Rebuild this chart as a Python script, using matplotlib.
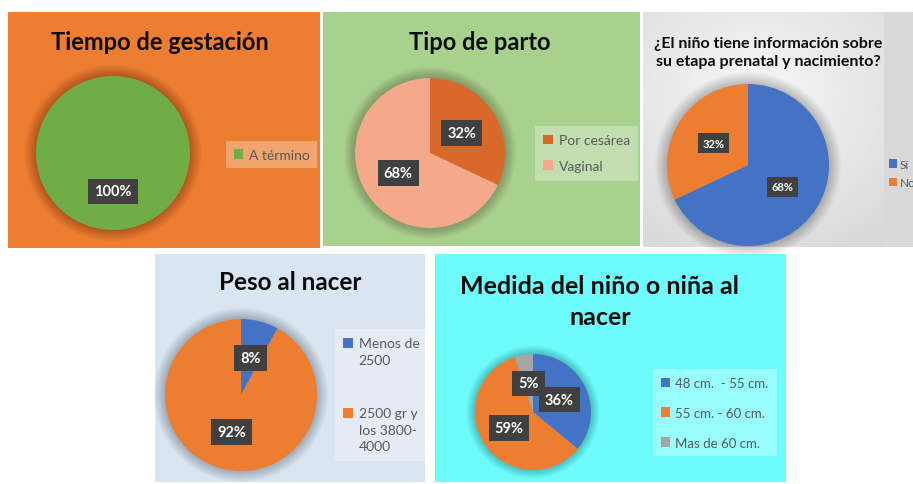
import numpy as np
import matplotlib.pyplot as plt
from matplotlib.patches import Circle, Rectangle
from matplotlib.legend_handler import HandlerPatch

plt.rcParams['font.family'] = ['Lato', 'DejaVu Sans']

W, H = 913, 485

# datos de cada grafico
gest_labels = ['A término']
gest_vals = [100]
parto_labels = ['Por cesárea', 'Vaginal']
parto_vals = [32, 68]
info_labels = ['Sí', 'No']
info_vals = [68, 32]
peso_labels = ['Menos de\n2500', '2500 gr y\nlos 3800-\n4000']
peso_vals = [8, 92]
medida_labels = ['48 cm.  - 55 cm.', '55 cm. - 60 cm.', 'Mas de 60 cm.']
medida_vals = [36, 59, 5]

AZUL, NARANJA, GRIS, VERDE = '#4472C4', '#ED7D31', '#A5A5A5', '#70AD47'

fig = plt.figure(figsize=(W / 100, H / 100), dpi=100)


def rect(x0, y0, x1, y1):
    # pixeles (origen arriba a la izquierda) -> fraccion de figura
    return [x0 / W, 1 - y1 / H, (x1 - x0) / W, (y1 - y0) / H]


def panel(x0, y0, x1, y1, color):
    ax = fig.add_axes(rect(x0, y0, x1, y1))
    ax.set_facecolor(color)
    ax.set_xticks([])
    ax.set_yticks([])
    for s in ax.spines.values():
        s.set_visible(False)
    return ax


def pastel(cx, cy, r, vals, colors, fs=10.5):
    ax = fig.add_axes(rect(cx - 1.25 * r, cy - 1.25 * r, cx + 1.25 * r, cy + 1.25 * r))
    # sombra difusa alrededor del pastel
    for k in range(20):
        ax.add_patch(Circle((0, 0), 1 + 0.008 * k, color='black', alpha=0.01, lw=0))
    wedges, _, autotexts = ax.pie(vals, colors=colors, startangle=90, counterclock=False,
                                  autopct='%1.0f%%', pctdistance=0.5,
                                  textprops=dict(color='white', fontweight='bold', fontsize=fs))
    for t in autotexts:
        t.set_bbox(dict(boxstyle='square,pad=0.4', fc='#404040', ec='none'))
    ax.set_xlim(-1.25, 1.25)
    ax.set_ylim(-1.25, 1.25)
    ax.set_axis_off()
    return wedges


def cuadro_arriba(sube):
    # marcador cuadrado alineado con la primera linea del texto
    def f(legend, orig_handle, xdescent, ydescent, width, height, fontsize):
        return Rectangle((-xdescent, -ydescent + sube), width, height)
    return HandlerPatch(patch_func=f)


def leyenda(wedges, labels, x0, y0, fs=9, interlineado=None, alpha=0.3, **kw):
    hmap = {}
    if interlineado:
        paso = fs * 0.84 * interlineado  # distancia entre lineas en puntos
        for wd, lab in zip(wedges, labels):
            hmap[wd] = cuadro_arriba(lab.count('\n') / 2 * paso)
    leg = fig.legend(wedges, labels, loc='upper left', bbox_to_anchor=(x0 / W, 1 - y0 / H),
                     borderaxespad=0, frameon=True, fancybox=False, facecolor='white',
                     framealpha=alpha, edgecolor='none', handlelength=0.7, handleheight=0.7,
                     labelcolor='#595959', fontsize=fs, handler_map=hmap, **kw)
    if interlineado:
        for t in leg.get_texts():
            t.set_linespacing(interlineado)
    return leg


def titulo(x, y, s, fs=17, **kw):
    fig.text(x / W, 1 - y / H, s, ha='center', va='center', fontsize=fs,
             fontweight='bold', color='#0D0D0D', **kw)


# 1. Tiempo de gestacion
panel(8, 13, 320, 249, '#ED7D31')
titulo(160, 43, 'Tiempo de gestación')
w = pastel(113, 154, 77, gest_vals, [VERDE])
leyenda(w, gest_labels, 226, 142, fs=10, borderpad=0.55, handletextpad=0.4)

# 2. Tipo de parto
panel(323, 13, 640, 247, '#A9D18E')
titulo(480, 43, 'Tipo de parto')
w = pastel(430, 154, 75, parto_vals, ['#D9692A', '#F4A98A'])
leyenda(w, parto_labels, 535, 127, fs=10, labelspacing=1.0, borderpad=0.6,
        handletextpad=0.4)

# 3. Informacion prenatal (fondo degradado)
ax3 = panel(643, 13, 913, 248, '#E0E0E0')
gx, gy = np.meshgrid(np.linspace(0, 1, 300), np.linspace(0, 1, 300))
grad = 0.97 - 0.16 * np.hypot(gx - 0.42, gy - 0.35)
grad[:, gx[0] > 0.895] = 0.85
ax3.imshow(grad, cmap='gray', vmin=0, vmax=1, extent=[0, 1, 0, 1], aspect='auto')
titulo(768, 53, '¿El niño tiene información sobre\nsu etapa prenatal y nacimiento?', fs=11.5,
       linespacing=1.4)
w = pastel(748, 166, 81, info_vals, [AZUL, NARANJA], fs=8)
leyenda(w, info_labels, 884, 155, fs=8.5, alpha=0.0, labelspacing=0.6, handletextpad=0.25)

# 4. Peso al nacer
panel(155, 255, 425, 483, '#DAE5F2')
titulo(290, 283, 'Peso al nacer', fs=17.5)
w = pastel(241, 396, 76, peso_vals, [AZUL, NARANJA])
leyenda(w, peso_labels, 335, 330, fs=10, interlineado=1.45, labelspacing=3.0,
        borderpad=0.6, handletextpad=0.4)

# 5. Medida al nacer
panel(435, 255, 786, 483, '#6EFBFB')
titulo(600, 302, 'Medida del niño o niña al\nnacer', fs=18, linespacing=1.4)
w = pastel(533, 413, 58, medida_vals, [AZUL, NARANJA, GRIS])
leyenda(w, medida_labels, 653, 370, fs=9.5, labelspacing=1.35, borderpad=0.6,
        handletextpad=0.4)

fig.savefig('out.png', dpi=100)
